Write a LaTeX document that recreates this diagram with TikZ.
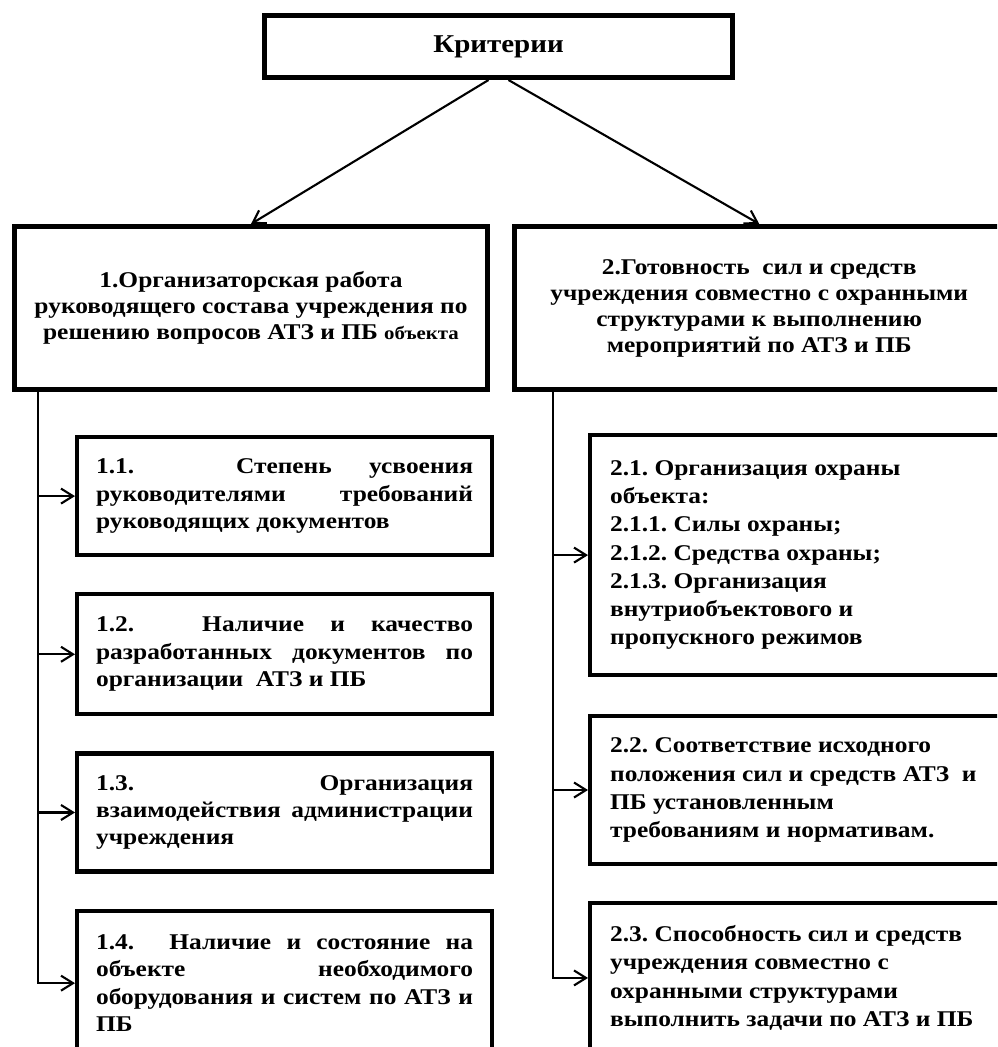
\documentclass[tikz,border=0pt]{standalone}
\usepackage{fontspec}
\setmainfont{Liberation Serif}[FakeStretch=1.13]
\usepackage{tikz}
\usetikzlibrary{arrows.meta, positioning}
% justified line inside a fixed-width node
\newcommand{\jl}[1]{{\spaceskip=0pt\xspaceskip=0pt\makebox[\linewidth][s]{#1}}\\}

\begin{document}
\begin{tikzpicture}[
  x=0.02cm, y=-0.02cm,
  crit/.style={draw, line width=2.6pt, minimum width=9.37cm, minimum height=1.25cm, font=\fontsize{14.6}{17}\selectfont\bfseries},
  grp/.style={draw, line width=2.6pt, minimum height=3.27cm, align=center, font=\fontsize{12.8}{14.8}\selectfont\bfseries},
  itemL/.style={draw, line width=2.4pt, text width=7.54cm, inner xsep=0.38cm, align=justify, font=\fontsize{12.8}{15.6}\selectfont\bfseries},
  itemR/.style={draw, line width=2.4pt, text width=7.6cm, inner xsep=0.4cm, align=justify, font=\fontsize{12.8}{16}\selectfont\bfseries\frenchspacing},
  conn/.style={-{Straight Barb[length=2.4mm, width=3mm]}, line width=1.2pt},
  node distance=0.7cm
]
  \clip (0,0) rectangle (997,1047);

  \node[crit] (crit) at (498.5,46.5) {Критерии};
  \node[grp, minimum width=9.47cm] (b1) at (251,308)
    {1.Организаторская работа\\ руководящего состава учреждения по\\ решению вопросов АТЗ и ПБ {\fontsize{10.5}{14.8}\selectfont объекта}};
  \node[grp, minimum width=9.8cm, anchor=west] (b2) at (512,308)
    {2.Готовность\ \ сил и средств\\ учреждения совместно с охранными\\ структурами к выполнению\\ мероприятий по АТЗ и ПБ};

  \draw[conn] ([xshift=-0.2cm]crit.south) -- (b1.north);
  \draw[conn] ([xshift=0.2cm]crit.south) -- (b2.north);

  % left column
  \node[itemL, minimum height=2.36cm, anchor=north west] (s11) at (75,435)
    {\jl{1.1. Степень усвоения}\jl{руководителями требований}руководящих документов};
  \node[itemL, minimum height=2.4cm, below=of s11] (s12)
    {\jl{1.2. Наличие и качество}\jl{разработанных документов по}организации\ \ АТЗ и ПБ};
  \node[itemL, minimum height=2.36cm, below=of s12] (s13)
    {\jl{1.3. Организация}\jl{взаимодействия администрации}учреждения};
  \node[itemL, minimum height=2.9cm, below=of s13] (s14)
    {\jl{1.4. Наличие и состояние на}\jl{объекте необходимого}\jl{оборудования и систем по АТЗ и}ПБ};

  % right column
  \node[itemR, minimum height=4.8cm, anchor=north west] (s21) at (588,433)
    {2.1. Организация охраны\\ объекта:\\ 2.1.1. Силы охраны;\\ 2.1.2. Средства охраны;\\ 2.1.3. Организация\\ внутриобъектового и\\ пропускного режимов};
  \node[itemR, minimum height=2.95cm, below=0.74cm of s21] (s22)
    {2.2. Соответствие исходного\\ положения сил и средств АТЗ\ \ и\\ ПБ установленным\\ требованиям и нормативам.};
  \node[itemR, minimum height=3cm, below=of s22] (s23)
    {2.3. Способность сил и средств\\ учреждения совместно с\\ охранными структурами\\ выполнить задачи по АТЗ и ПБ};

  \draw[conn] ([xshift=0.52cm]b1.south west) coordinate (t1) |- (s14.west);
  \foreach \s in {s11, s12, s13}
    \draw[conn] (t1 |- \s.west) -- (\s.west);
  \draw[conn] ([xshift=0.82cm]b2.south west) coordinate (t2) |- (s23.west);
  \foreach \s in {s21, s22}
    \draw[conn] (t2 |- \s.west) -- (\s.west);
\end{tikzpicture}
\end{document}
